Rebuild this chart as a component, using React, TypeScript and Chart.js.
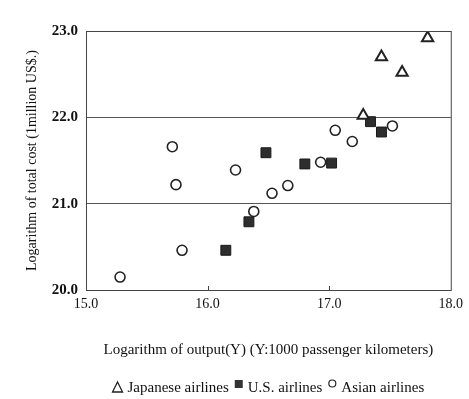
import React, { useEffect, useRef } from "react";
import { Chart, registerables } from "chart.js";

Chart.register(...registerables);

// Japanese airlines (triangles)
const japanX = [17.81, 17.43, 17.60, 17.28];
const japanY = [22.92, 22.70, 22.52, 22.02];
// U.S. airlines (filled squares)
const usX = [17.34, 17.43, 16.48, 16.80, 17.02, 16.34, 16.15];
const usY = [21.95, 21.83, 21.59, 21.46, 21.47, 20.79, 20.46];
// Asian airlines (open circles)
const asiaX = [15.71, 15.74, 16.23, 16.53, 16.66, 16.93, 17.05, 17.19, 17.52, 16.38, 15.79, 15.28];
const asiaY = [21.66, 21.22, 21.39, 21.12, 21.21, 21.48, 21.85, 21.72, 21.90, 20.91, 20.46, 20.15];

const seriesNames = ["Japanese airlines", "U.S. airlines", "Asian airlines"];
const xTicks = [15, 16, 17, 18];
const yTicks = [20, 21, 22, 23];
const xTitle = "Logarithm of output(Y) (Y:1000 passenger kilometers)";
const yTitle = "Logarithm of total cost (1million US$.)";

const FONT = "'Liberation Serif', 'Times New Roman', serif";

const pts = (xs: number[], ys: number[]) => xs.map((x, i) => ({ x, y: ys[i] }));

const framePlugin = {
  id: "frame",
  afterDraw(chart: any) {
    const { ctx, chartArea, scales } = chart;
    ctx.save();
    ctx.strokeStyle = "#444";
    ctx.lineWidth = 1;
    ctx.strokeRect(chartArea.left + 0.5, chartArea.top + 0.5, chartArea.right - chartArea.left, chartArea.bottom - chartArea.top);
    // small inward tick marks on the x axis
    xTicks.slice(1, -1).forEach((v) => {
      const px = Math.round(scales.x.getPixelForValue(v)) + 0.5;
      ctx.beginPath();
      ctx.moveTo(px, chartArea.bottom);
      ctx.lineTo(px, chartArea.bottom - 4);
      ctx.stroke();
    });
    ctx.restore();
  },
};

// Legend drawn like the printed figure: "Δ Japanese airlines ■ U.S. airlines ○ Asian airlines"
const legendPlugin = {
  id: "printLegend",
  afterDraw(chart: any) {
    const { ctx, chartArea } = chart;
    const y = 388;
    ctx.save();
    ctx.font = `15px ${FONT}`;
    ctx.textBaseline = "middle";
    ctx.fillStyle = "#111";
    const markerW = [10, 8, 8];
    const gapAfterMarker = 5;
    const gapBetween = 6;
    let total = 0;
    seriesNames.forEach((n, i) => {
      total += markerW[i] + gapAfterMarker + ctx.measureText(n).width;
      if (i < seriesNames.length - 1) total += gapBetween;
    });
    let x = (chartArea.left + chartArea.right) / 2 - total / 2;
    seriesNames.forEach((n, i) => {
      ctx.strokeStyle = "#222";
      if (i === 0) {
        ctx.lineWidth = 1.3;
        ctx.beginPath();
        ctx.moveTo(x + 5, y - 6);
        ctx.lineTo(x + 10, y + 4);
        ctx.lineTo(x, y + 4);
        ctx.closePath();
        ctx.stroke();
      } else if (i === 1) {
        ctx.fillStyle = "#333";
        ctx.fillRect(x, y - 8, 8, 8);
      } else {
        ctx.lineWidth = 1.2;
        ctx.beginPath();
        ctx.arc(x + 4, y - 4.5, 3.5, 0, Math.PI * 2);
        ctx.stroke();
      }
      x += markerW[i] + gapAfterMarker;
      ctx.fillStyle = "#111";
      ctx.fillText(n, x, y);
      x += ctx.measureText(n).width + gapBetween;
    });
    ctx.restore();
  },
};

export default function App() {
  const ref = useRef<HTMLCanvasElement>(null);
  useEffect(() => {
    if (!ref.current) return;
    const chart = new Chart(ref.current, {
      type: "scatter",
      data: {
        datasets: [
          {
            label: seriesNames[0],
            data: pts(japanX, japanY),
            pointStyle: "triangle",
            pointRadius: 6.5,
            pointBorderWidth: 2,
            borderColor: "#222",
            backgroundColor: "rgba(255,255,255,1)",
          },
          {
            label: seriesNames[1],
            data: pts(usX, usY),
            pointStyle: "rect",
            pointRadius: 7,
            pointBorderWidth: 1,
            borderColor: "#1a1a1a",
            backgroundColor: "#2e2e2e",
          },
          {
            label: seriesNames[2],
            data: pts(asiaX, asiaY),
            pointStyle: "circle",
            pointRadius: 5,
            pointBorderWidth: 1.6,
            borderColor: "#222",
            backgroundColor: "rgba(255,255,255,1)",
          },
        ],
      },
      options: {
        animation: false,
        responsive: true,
        maintainAspectRatio: false,
        layout: { padding: { top: 31, right: 17, left: 0, bottom: 0 } },
        plugins: {
          tooltip: { enabled: false },
          legend: { display: false },
        },
        scales: {
          x: {
            type: "linear",
            min: 15,
            max: 18,
            afterBuildTicks: (s: any) => {
              s.ticks = xTicks.map((v) => ({ value: v }));
            },
            afterFit: (s: any) => {
              s.height = 109;
            },
            grid: { display: false, drawTicks: false },
            border: { display: true, color: "#444", width: 1 },
            ticks: {
              padding: 6,
              color: "#111",
              maxRotation: 0,
              font: { family: FONT, size: 14 },
              callback: (v: any) => Number(v).toFixed(1),
            },
            title: {
              display: true,
              text: xTitle,
              color: "#111",
              font: { family: FONT, size: 15 },
              padding: { top: 0, bottom: 40 },
            },
          },
          y: {
            type: "linear",
            min: 20,
            max: 23,
            afterBuildTicks: (s: any) => {
              s.ticks = yTicks.map((v) => ({ value: v }));
            },
            afterFit: (s: any) => {
              s.width = 86;
            },
            grid: { display: true, drawTicks: false, color: "#555", lineWidth: 1 },
            border: { display: true, color: "#444", width: 1 },
            ticks: {
              padding: 8,
              color: "#111",
              font: { family: FONT, size: 15, weight: "bold" },
              callback: (v: any) => Number(v).toFixed(1),
            },
            title: {
              display: true,
              text: yTitle,
              color: "#111",
              font: { family: FONT, size: 14 },
              padding: { top: 24, bottom: 0 },
            },
          },
        },
      },
      plugins: [framePlugin, legendPlugin],
    } as any);
    return () => chart.destroy();
  }, []);
  return (
    <div style={{ position: "fixed", left: 0, top: 0, width: 469, height: 399, overflow: "hidden", background: "#fff" }}>
      <canvas ref={ref} />
    </div>
  );
}
